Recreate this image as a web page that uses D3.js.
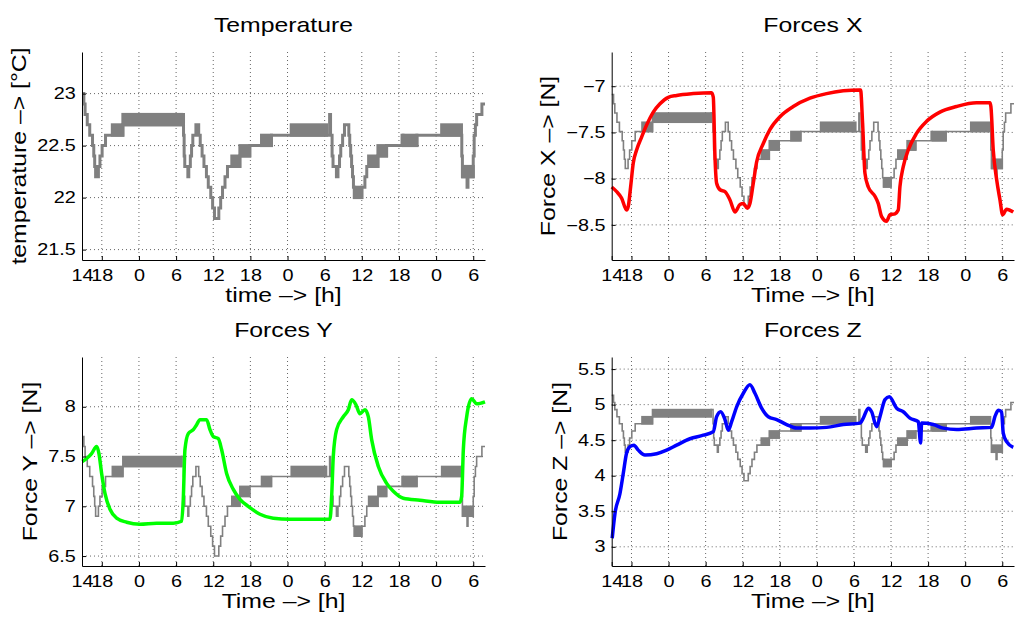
<!DOCTYPE html>
<html>
<head>
<meta charset="UTF-8">
<title>Forces</title>
<script src="https://cdn.jsdelivr.net/npm/d3@7"></script>
<style>
body{margin:0;background:#fff;}
text{font-family:"Liberation Sans",Arial,sans-serif;fill:#000;}
</style>
</head>
<body>
<script>
// time in hours, 0 = midnight of the first day
var hourTicks = [-9.2, -6, 0, 6, 12, 18, 24, 30, 36, 42, 48, 54];
var hourLabels = ["14","18","0","6","12","18","0","6","12","18","0","6"];
var hourRange = [-9.2, 55.9];

// temperature, quantised in 0.1 steps (step after)
var tempTime = [-9.2,-8.9,-8.7,-8.35,-7.95,-7.5,-7.3,-7.15,-7.0,-6.55,-6.3,-5.95,-5.4,-2.6,6.9,7.2,7.3,7.4,7.9,8.05,8.3,8.5,8.7,9.2,9.65,9.9,10.2,10.5,10.9,11.2,11.6,11.9,12.2,12.9,13.2,13.5,13.9,14.3,16.3,17.9,21.4,30.8,30.95,31.2,31.35,31.9,32.15,32.4,32.6,32.9,33.2,33.9,34.05,34.2,34.35,34.5,34.65,34.8,36.0,36.5,36.8,38.6,40.0,42.5,42.65,44.9,52.15,52.25,53.0,53.15,54.0,54.15,54.35,54.55,55.4,55.9];
var tempValue = [23.0,22.9,22.8,22.7,22.6,22.5,22.4,22.3,22.2,22.3,22.4,22.5,22.6,22.7,22.8,22.6,22.4,22.3,22.2,22.3,22.4,22.5,22.6,22.7,22.6,22.5,22.4,22.3,22.2,22.1,22.0,21.9,21.8,21.9,22.0,22.1,22.2,22.3,22.4,22.5,22.6,22.8,22.6,22.4,22.3,22.2,22.3,22.4,22.5,22.6,22.7,22.6,22.5,22.4,22.3,22.2,22.1,22.0,22.1,22.2,22.3,22.4,22.5,22.6,22.5,22.6,22.4,22.2,22.1,22.2,22.4,22.6,22.7,22.8,22.9,22.9];
// sensor toggling between two neighbouring levels
var bandStart = [-4.3,-2.6,15.0,16.3,19.8,24.6,34.8,37.1,38.6,42.7,48.9,52.3];
var bandEnd   = [-2.6, 6.9,16.3,17.9,21.4,30.3,36.0,38.6,40.0,44.9,52.1,54.0];
var bandLow   = [22.6,22.7,22.3,22.4,22.5,22.6,22.0,22.3,22.4,22.5,22.6,22.2];

var forceXTime  = [-9.2,-8.4,-7.6,-6.79,-6.52,-6.14,-5.71,-5.17,-4.36,-3.55,-2.47,-1.39,-0.04,1.31,4.0,6.97,7.24,7.51,7.78,8.32,9.13,9.94,10.75,11.55,12.1,12.74,13.17,13.71,14.25,15.33,16.4,18.03,20.18,22.88,25.57,28.27,30.86,31.07,31.4,31.78,32.32,33.4,33.94,34.48,35.29,35.83,36.64,37.17,37.44,37.98,38.79,40.13,41.75,43.91,46.6,49.84,52.0,52.16,52.54,53.09,53.63,54.06,54.7,55.78];
var forceXValue = [-8.09,-8.14,-8.21,-8.34,-8.30,-8.09,-7.83,-7.69,-7.55,-7.42,-7.28,-7.19,-7.12,-7.10,-7.08,-7.07,-7.12,-7.76,-8.05,-8.12,-8.14,-8.23,-8.36,-8.28,-8.27,-8.32,-8.27,-8.05,-7.82,-7.62,-7.47,-7.33,-7.22,-7.13,-7.08,-7.05,-7.04,-7.04,-7.40,-7.94,-8.09,-8.19,-8.27,-8.41,-8.46,-8.39,-8.38,-8.34,-8.09,-7.87,-7.69,-7.51,-7.38,-7.28,-7.22,-7.18,-7.18,-7.22,-7.69,-8.01,-8.23,-8.39,-8.33,-8.36];

var forceYTime  = [-9.15,-8.45,-7.65,-6.84,-6.46,-6.03,-5.49,-4.68,-3.61,-1.99,0.16,2.85,5.55,6.89,7.16,7.43,7.97,8.78,9.32,9.85,10.93,11.47,12.01,12.82,13.35,14.16,15.24,16.32,17.66,19.55,21.7,24.39,27.09,30.86,31.13,31.39,31.93,33.01,33.82,34.36,35.06,35.7,36.51,37.05,37.59,38.67,40.01,41.09,42.7,45.39,48.63,51.86,52.13,52.4,52.94,53.74,54.55,55.9];
var forceYValue = [7.45,7.48,7.53,7.60,7.53,7.33,7.13,6.97,6.88,6.84,6.82,6.83,6.83,6.85,7.07,7.57,7.73,7.77,7.82,7.87,7.87,7.77,7.70,7.68,7.57,7.33,7.17,7.07,7.00,6.92,6.88,6.87,6.87,6.87,7.10,7.50,7.77,7.90,7.97,8.07,8.02,7.93,7.97,7.90,7.67,7.40,7.23,7.15,7.08,7.06,7.04,7.04,7.10,7.57,7.90,8.08,8.03,8.05];

var forceZTime  = [-9.12,-8.67,-7.86,-7.33,-6.79,-6.25,-5.6,-4.9,-3.82,-1.93,-0.31,1.31,3.46,5.62,7.24,7.78,8.43,9.13,9.67,10.21,11.02,12.1,13.17,13.98,15.06,16.14,17.49,19.11,20.73,22.88,25.57,28.27,30.97,31.51,32.32,32.86,33.67,34.21,35.02,35.72,36.91,37.98,39.06,40.41,40.79,40.95,42.84,44.46,46.62,49.85,52.27,52.81,53.35,53.89,54.16,54.7,55.78];
var forceZValue = [3.12,3.47,3.75,4.03,4.32,4.41,4.43,4.36,4.29,4.31,4.36,4.43,4.52,4.57,4.62,4.83,4.90,4.79,4.64,4.76,4.97,5.16,5.28,5.16,4.95,4.83,4.79,4.72,4.67,4.67,4.68,4.72,4.74,4.81,4.95,4.90,4.69,4.83,5.07,5.11,4.95,4.90,4.81,4.76,4.46,4.74,4.72,4.67,4.65,4.67,4.68,4.83,4.92,4.90,4.60,4.48,4.40];

// temperature drawn behind each force, shifted onto its axis
var tempOffset = [0, -30.09, -15.3, -17.87];

var titles  = ["Temperature", "Forces X", "Forces Y", "Forces Z"];
var yLabels = ["temperature \u2013> [\u00b0C]", "Force X \u2013> [N]", "Force Y \u2013> [N]", "Force Z \u2013> [N]"];
var xLabels = ["time \u2013> [h]", "Time \u2013> [h]", "Time \u2013> [h]", "Time \u2013> [h]"];
var yDomains = [[21.4, 23.4], [-8.88, -6.63], [6.4, 8.5], [2.73, 5.67]];
var yTicks = [[21.5, 22, 22.5, 23], [-8.5, -8, -7.5, -7], [6.5, 7, 7.5, 8], [3, 3.5, 4, 4.5, 5, 5.5]];
var seriesTime  = [null, forceXTime, forceYTime, forceZTime];
var seriesValue = [null, forceXValue, forceYValue, forceZValue];
var seriesColor = [null, "#ff0000", "#00ff00", "#0000ff"];

var boxes = [[82, 52, 485, 260], [611.7, 52, 1014, 260], [82, 357, 485, 566], [611.7, 357, 1014, 566]];
var stretch = "scale(1.24,1)";
var gray = "#808080";

var svg = d3.select("body").append("svg")
    .attr("width", 1017)
    .attr("height", 617);

boxes.forEach(function(b, k) {
  var w = b[2] - b[0], h = b[3] - b[1];
  var g = svg.append("g").attr("transform", "translate(" + b[0] + "," + b[1] + ")");

  var x = d3.scaleLinear().domain(hourRange).range([0, w]);
  var y = d3.scaleLinear().domain(yDomains[k]).range([h, 0]);

  // dotted grid
  g.append("g").selectAll("line").data(hourTicks.slice(1)).enter().append("line")
      .attr("x1", function(d) { return x(d); }).attr("x2", function(d) { return x(d); })
      .attr("y1", 0).attr("y2", h)
      .attr("stroke", "#666").attr("stroke-dasharray", "1,3");
  g.append("g").selectAll("line").data(yTicks[k]).enter().append("line")
      .attr("x1", 0).attr("x2", w)
      .attr("y1", function(d) { return y(d); }).attr("y2", function(d) { return y(d); })
      .attr("stroke", "#666").attr("stroke-dasharray", "1,3");

  // temperature trace
  var off = tempOffset[k];
  var lw = k == 0 ? 3 : 1.6;
  var tdata = tempTime.map(function(t, i) { return [t, tempValue[i] + off]; });
  var plot = g.append("g");
  plot.selectAll("rect").data(bandStart).enter().append("rect")
      .attr("x", function(d) { return x(d); })
      .attr("width", function(d, i) { return x(bandEnd[i]) - x(d); })
      .attr("y", function(d, i) { return y(bandLow[i] + 0.1 + off); })
      .attr("height", function(d, i) { return y(bandLow[i] + off) - y(bandLow[i] + 0.1 + off); })
      .attr("fill", gray).attr("stroke", gray).attr("stroke-width", lw);
  plot.append("path")
      .attr("d", d3.line().x(function(d) { return x(d[0]); }).y(function(d) { return y(d[1]); }).curve(d3.curveStepAfter)(tdata))
      .attr("fill", "none").attr("stroke", gray).attr("stroke-width", lw);

  // force trace
  if (seriesTime[k]) {
    var fdata = seriesTime[k].map(function(t, i) { return [t, seriesValue[k][i]]; });
    plot.append("path")
        .attr("d", d3.line().x(function(d) { return x(d[0]); }).y(function(d) { return y(d[1]); }).curve(d3.curveMonotoneX)(fdata))
        .attr("fill", "none").attr("stroke", seriesColor[k]).attr("stroke-width", 3.5)
        .attr("stroke-linejoin", "round");
  }

  // axes
  var xa = g.append("g").attr("transform", "translate(0," + h + ")")
      .call(d3.axisBottom(x).tickValues(hourTicks)
        .tickFormat(function(d, i) { return hourLabels[i]; })
        .tickSizeInner(-4).tickSizeOuter(0).tickPadding(10));
  var ya = g.append("g")
      .call(d3.axisLeft(y).tickValues(yTicks[k]).tickFormat(d3.format("~"))
        .tickSizeInner(-4).tickSizeOuter(0).tickPadding(5));
  [xa, ya].forEach(function(a) {
    a.selectAll("text").attr("font-size", 16).attr("transform", stretch);
    a.selectAll("path,line").attr("stroke", "#000");
    a.attr("font-family", null);
  });

  var bb = ya.node().getBBox();

  g.append("text").text(titles[k])
      .attr("text-anchor", "middle").attr("font-size", 20)
      .attr("transform", "translate(" + (w / 2) + ",-20) " + stretch);
  g.append("text").text(xLabels[k])
      .attr("text-anchor", "middle").attr("font-size", 20)
      .attr("transform", "translate(" + (w / 2) + "," + (h + 42) + ") " + stretch);
  g.append("text").text(yLabels[k])
      .attr("text-anchor", "middle").attr("font-size", 20)
      .attr("transform", "translate(" + (bb.x - 11) + "," + (h / 2) + ") rotate(-90) " + stretch);
});
</script>
</body>
</html>
